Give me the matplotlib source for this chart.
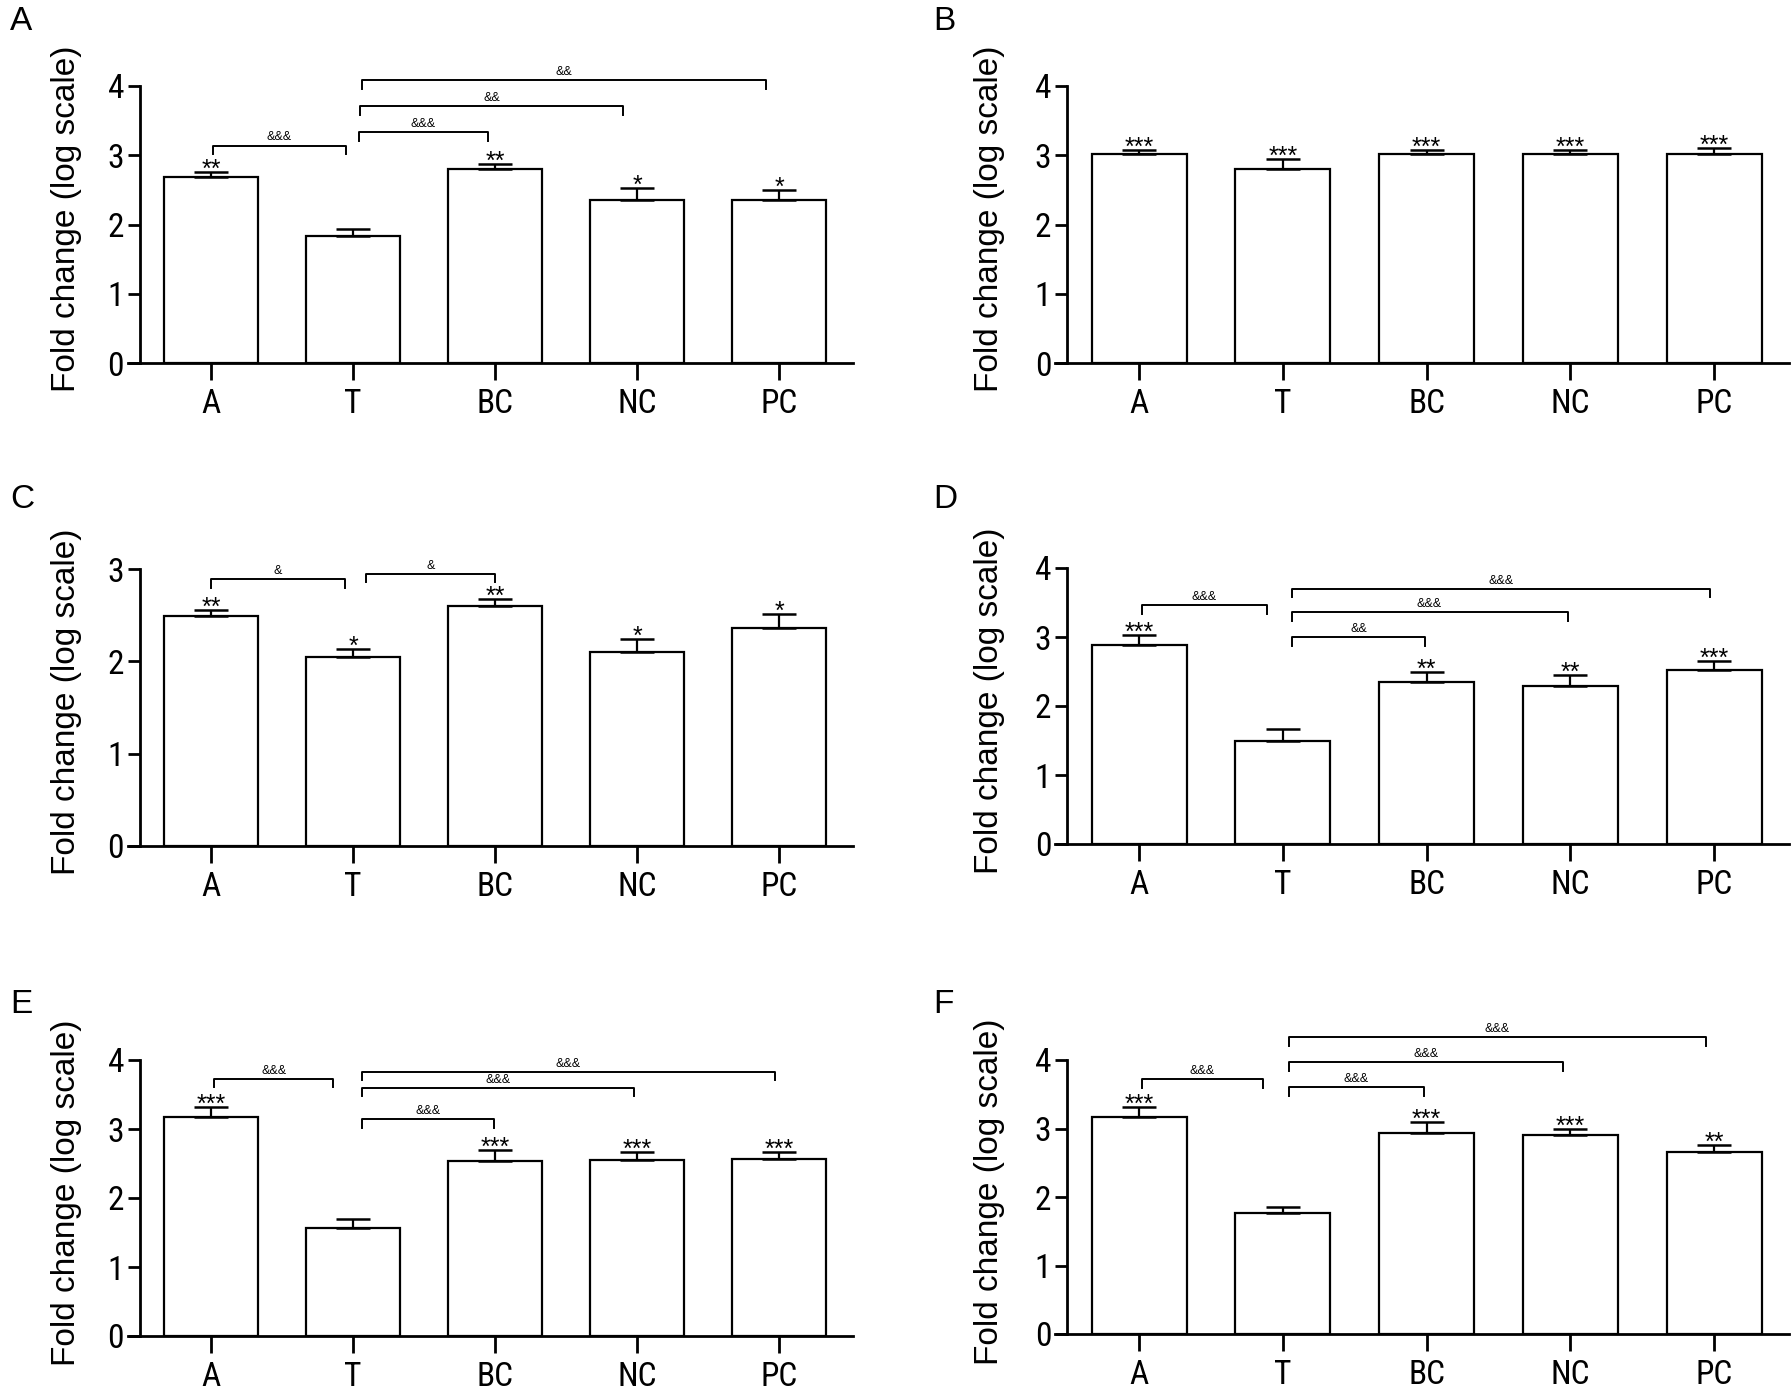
import numpy as np
import matplotlib.pyplot as plt
from matplotlib import font_manager

plt.rcParams['font.family'] = ['Liberation Sans', 'DejaVu Sans']

# the tick labels in the figure use a narrow sans face; take one if installed
installed = {f.name for f in font_manager.fontManager.ttflist}
narrow_stretch = 'normal'
NARROW = ['Liberation Sans', 'DejaVu Sans']
for name in ['Liberation Sans Narrow', 'Arial Narrow', 'Roboto Condensed', 'Open Sans Condensed']:
    if name in installed:
        NARROW = [name, 'Liberation Sans']
        break
else:
    cond = [f for f in font_manager.fontManager.ttflist
            if f.stretch in ('condensed', 'semi-condensed', 600, 700) and f.name in ('Roboto', 'Open Sans', 'Noto Sans', 'DejaVu Sans')]
    if cond:
        NARROW = [cond[0].name]
        narrow_stretch = cond[0].stretch

groups = ['A', 'T', 'BC', 'NC', 'PC']

# bar heights and upper error (SEM), log scale fold change
mean_a = [2.69, 1.83, 2.80, 2.36, 2.35]
err_a = [0.07, 0.11, 0.08, 0.16, 0.15]
mean_b = [3.02, 2.80, 3.02, 3.02, 3.02]
err_b = [0.05, 0.14, 0.05, 0.05, 0.08]
mean_c = [2.49, 2.05, 2.60, 2.10, 2.36]
err_c = [0.07, 0.08, 0.07, 0.14, 0.15]
mean_d = [2.88, 1.50, 2.35, 2.29, 2.52]
err_d = [0.15, 0.16, 0.15, 0.16, 0.13]
mean_e = [3.17, 1.57, 2.54, 2.55, 2.57]
err_e = [0.15, 0.13, 0.16, 0.12, 0.10]
mean_f = [3.17, 1.77, 2.93, 2.90, 2.65]
err_f = [0.14, 0.08, 0.16, 0.10, 0.11]

# significance stars above each bar
stars_a = ['**', '', '**', '*', '*']
stars_b = ['***', '***', '***', '***', '***']
stars_c = ['**', '*', '**', '*', '*']
stars_d = ['***', '', '**', '**', '***']
stars_e = ['***', '', '***', '***', '***']
stars_f = ['***', '', '***', '***', '**']

# comparison brackets: (from, to, height, label)
brackets_a = [(0.01, 0.95, 3.14, '&&&'), (1.04, 1.95, 3.33, '&&&'),
              (1.05, 2.90, 3.71, '&&'), (1.06, 3.91, 4.08, '&&')]
brackets_b = []
brackets_c = [(0.0, 0.94, 2.89, '&'), (1.09, 2.0, 2.95, '&')]
brackets_d = [(0.02, 0.89, 3.46, '&&&'), (1.06, 1.99, 3.00, '&&'),
              (1.06, 2.98, 3.36, '&&&'), (1.06, 3.97, 3.70, '&&&')]
brackets_e = [(0.02, 0.86, 3.73, '&&&'), (1.06, 1.99, 3.14, '&&&'),
              (1.06, 2.98, 3.60, '&&&'), (1.06, 3.97, 3.83, '&&&')]
brackets_f = [(0.02, 0.86, 3.72, '&&&'), (1.04, 1.98, 3.60, '&&&'),
              (1.04, 2.95, 3.97, '&&&'), (1.04, 3.94, 4.33, '&&&')]

W, H = 1791, 1400
fig = plt.figure(figsize=(W / 100, H / 100), dpi=100)

# panel: (letter, means, errs, stars, brackets, ymax, left px, zero-line px, width px, height px)
panels = [
    ('A', mean_a, err_a, stars_a, brackets_a, 4, 128, 363, 725, 277),
    ('B', mean_b, err_b, stars_b, brackets_b, 4, 1055, 363, 734, 277),
    ('C', mean_c, err_c, stars_c, brackets_c, 3, 128, 846, 725, 277),
    ('D', mean_d, err_d, stars_d, brackets_d, 4, 1055, 844, 734, 276),
    ('E', mean_e, err_e, stars_e, brackets_e, 4, 128, 1336, 725, 276),
    ('F', mean_f, err_f, stars_f, brackets_f, 4, 1055, 1334, 734, 274),
]

for letter, means, errs, stars, brackets, ymax, left, y0, w, h in panels:
    ax = fig.add_axes([left / W, 1 - y0 / H, w / W, h / H])
    x = np.arange(len(groups))
    ax.bar(x, means, width=0.66, color='white', edgecolor='black', linewidth=1.6, zorder=2)
    ax.errorbar(x, means, yerr=[np.zeros(len(x)), errs], fmt='none', ecolor='black',
                elinewidth=1.6, capsize=12, capthick=1.8, zorder=3)

    ax.set_xlim(-0.585, 4.52)
    ax.set_ylim(0, ymax)
    ax.spines['top'].set_visible(False)
    ax.spines['right'].set_visible(False)
    ax.spines['left'].set_position(('data', -0.5))
    ax.spines['left'].set_bounds(0, ymax)
    ax.spines['left'].set_linewidth(2)
    ax.spines['bottom'].set_linewidth(2)

    ax.set_yticks(range(ymax + 1))
    ax.set_xticks(x)
    ax.set_xticklabels(groups)
    for lab in ax.get_xticklabels() + ax.get_yticklabels():
        lab.set_family(NARROW)
        lab.set_stretch(narrow_stretch)
    ax.tick_params(axis='x', length=12, width=2, pad=6, labelsize=24)
    ax.tick_params(axis='y', length=8.5, width=2, pad=3, labelsize=24)

    ax.set_ylabel('Fold change (log scale)', fontsize=24)
    ax.yaxis.set_label_coords((82 - left if left < 500 else 1005 - left) / w, 0.52)

    for i, s in enumerate(stars):
        if s:
            ax.annotate(s, (i, means[i] + errs[i]), xytext=(0, -3.5), textcoords='offset points',
                        ha='center', va='baseline', fontsize=18, annotation_clip=False)

    d = 0.125 * ymax / 4
    for x1, x2, yb, lab in brackets:
        ax.plot([x1, x1, x2, x2], [yb - d, yb, yb, yb - d], color='black', lw=1.4,
                clip_on=False, zorder=4)
        ax.annotate(lab, ((x1 + x2) / 2, yb), xytext=(0, 1.5), textcoords='offset points',
                    ha='center', va='bottom', fontsize=9, annotation_clip=False)

    lx = 10 if left < 500 else 933
    ly = {363: 6, 846: 484, 844: 484, 1336: 989, 1334: 989}[y0]
    fig.text(lx / W, 1 - ly / H, letter, fontsize=24, ha='left', va='top')

fig.savefig('out.png', dpi=100)
